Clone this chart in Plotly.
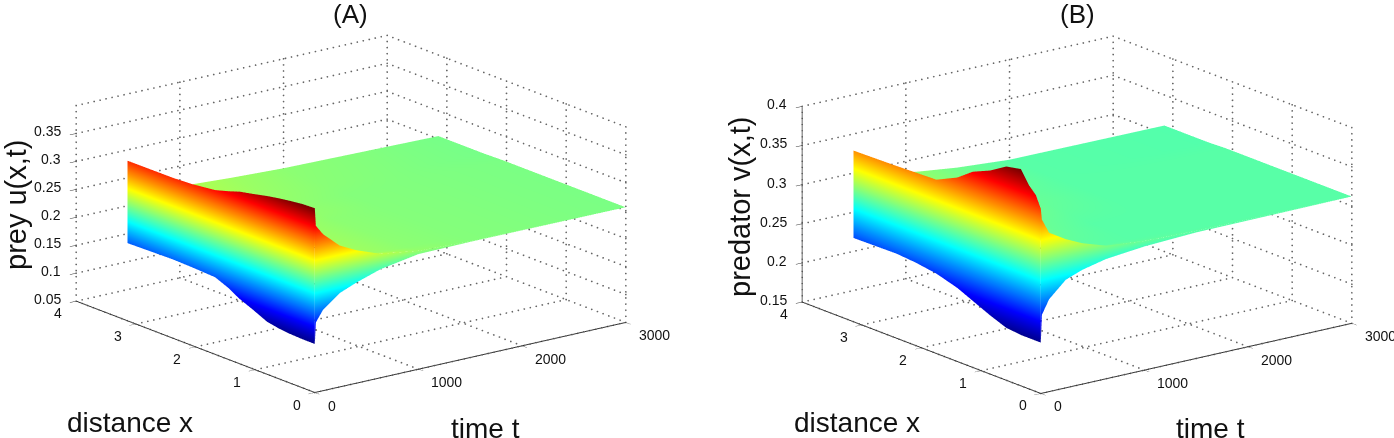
import plotly.graph_objects as go
import numpy as np

# axes (MATLAB-style box)
time_ticks = [0, 1000, 2000, 3000]
dist_ticks = [0, 1, 2, 3, 4]
prey_ticks = [0.05, 0.1, 0.15, 0.2, 0.25, 0.3, 0.35]
pred_ticks = [0.15, 0.2, 0.25, 0.3, 0.35, 0.4]

# grids
t_grid = [0, 10, 80, 240, 400, 630, 1000, 1500, 3000]
x_grid = [0, 0.2, 0.42, 0.6, 0.8, 1.04, 1.26, 1.45, 1.67, 2.05, 2.38, 3.14]

# upper sheet, rows = t_grid, columns = x_grid
prey_upper = [
    [0.380, 0.379, 0.376, 0.373, 0.369, 0.363, 0.358, 0.351, 0.344, 0.339, 0.337, 0.3365],
    [0.348, 0.340, 0.330, 0.325, 0.320, 0.315, 0.310, 0.307, 0.305, 0.305, 0.305, 0.305],
    [0.330, 0.315, 0.305, 0.302, 0.300, 0.297, 0.295, 0.295, 0.295, 0.295, 0.295, 0.295],
    [0.303, 0.290, 0.285, 0.283, 0.282, 0.281, 0.280, 0.280, 0.280, 0.280, 0.280, 0.280],
    [0.288, 0.275, 0.272, 0.272, 0.272, 0.272, 0.272, 0.272, 0.272, 0.272, 0.272, 0.272],
    [0.272, 0.264, 0.264, 0.264, 0.264, 0.264, 0.264, 0.265, 0.266, 0.266, 0.266, 0.268],
    [0.262, 0.260, 0.260, 0.260, 0.260, 0.260, 0.260, 0.260, 0.261, 0.261, 0.262, 0.264],
    [0.258, 0.258, 0.258, 0.258, 0.258, 0.258, 0.258, 0.258, 0.258, 0.258, 0.259, 0.260],
    [0.256, 0.256, 0.256, 0.256, 0.256, 0.256, 0.256, 0.256, 0.256, 0.256, 0.255, 0.255],
]
prey_lower_t0 = [0.137, 0.137, 0.138, 0.140, 0.144, 0.156, 0.166, 0.178, 0.188, 0.190, 0.191, 0.189]
prey_lower_x0 = [0.137, 0.175, 0.195, 0.218, 0.230, 0.244, 0.256, 0.257, 0.256]

pred_x_grid = [0, 0.083, 0.195, 0.333, 0.58, 0.85, 1.14, 1.4, 1.75, 2.1, 2.42, 3.14]
pred_upper = [
    [0.386, 0.401, 0.410, 0.427, 0.423, 0.410, 0.400, 0.385, 0.372, 0.371, 0.370, 0.3686],
    [0.372, 0.371, 0.370, 0.370, 0.370, 0.368, 0.365, 0.362, 0.360, 0.357, 0.355, 0.355],
    [0.353, 0.349, 0.345, 0.345, 0.345, 0.345, 0.345, 0.345, 0.345, 0.345, 0.345, 0.345],
    [0.340, 0.332, 0.325, 0.325, 0.328, 0.331, 0.335, 0.335, 0.335, 0.335, 0.335, 0.335],
    [0.330, 0.322, 0.316, 0.316, 0.318, 0.321, 0.325, 0.327, 0.328, 0.328, 0.328, 0.328],
    [0.320, 0.316, 0.313, 0.313, 0.314, 0.315, 0.316, 0.318, 0.320, 0.321, 0.322, 0.323],
    [0.315, 0.313, 0.312, 0.312, 0.312, 0.312, 0.313, 0.314, 0.315, 0.315, 0.316, 0.317],
    [0.313, 0.312, 0.312, 0.312, 0.312, 0.312, 0.312, 0.312, 0.312, 0.312, 0.312, 0.312],
    [0.312, 0.312, 0.312, 0.312, 0.312, 0.312, 0.312, 0.312, 0.312, 0.312, 0.311, 0.311],
]
pred_lower_t0 = [0.215, 0.215, 0.215, 0.215, 0.217, 0.225, 0.235, 0.244, 0.252, 0.256, 0.258, 0.257]
pred_lower_x0 = [0.215, 0.250, 0.268, 0.288, 0.296, 0.303, 0.308, 0.311, 0.312]

JET = [[0, "#00008f"], [0.125, "#0000ff"], [0.375, "#00ffff"], [0.625, "#ffff00"],
       [0.875, "#ff0000"], [1, "#800000"]]
FLAT = dict(ambient=1, diffuse=0, specular=0, roughness=1, fresnel=0)
TF = "Liberation Sans, Arial, sans-serif"
AXIS_FONT = dict(family=TF, size=14, color="#111")
GRID = "#666666"
SCALE = 1.79


def surf(x, y, z, cmin, cmax, scene):
    return go.Surface(x=x, y=y, z=z, surfacecolor=z, cmin=cmin, cmax=cmax, colorscale=JET,
                      showscale=False, lighting=FLAT, hoverinfo="skip", scene=scene,
                      contours=dict(x=dict(highlight=False), y=dict(highlight=False), z=dict(highlight=False)))


def grid_traces(fig, zticks, zlo, ztop, scene):
    # dotted MATLAB grid on the two back walls and the floor
    gx, gy, gz = [], [], []

    def seg(a, b, n):
        gx.extend(np.linspace(a[0], b[0], n)); gy.extend(np.linspace(a[1], b[1], n)); gz.extend(np.linspace(a[2], b[2], n))
    T, X = time_ticks[-1], dist_ticks[-1]
    for t in time_ticks:
        seg((t, 0, zlo), (t, X, zlo), 43)
        seg((t, X, zlo), (t, X, ztop), 33)
    for x in dist_ticks:
        seg((0, x, zlo), (T, x, zlo), 53)
        seg((T, x, zlo), (T, x, ztop), 33)
    for z in sorted(set(zticks + [ztop])):
        seg((0, X, z), (T, X, z), 53)
        seg((T, 0, z), (T, X, z), 43)
    fig.add_trace(go.Scatter3d(x=gx, y=gy, z=gz, mode="markers",
                               marker=dict(color=GRID, size=1, line=dict(width=0)),
                               hoverinfo="skip", showlegend=False, scene=scene))


def panel(fig, xg, upper, low_t0, low_x0, zticks, zlo, ztop, cmin, cmax, scene):
    up = np.array(upper)
    xs = np.array(xg, float)
    ts = np.array(t_grid, float)
    grid_traces(fig, zticks, zlo, ztop, scene)
    fig.add_trace(surf(ts, xs, up.T, cmin, cmax, scene))
    # t = 0 curtain between the two envelopes
    wall_z = np.array([up[0], low_t0])
    fig.add_trace(surf(np.zeros((2, len(xs))), np.array([xs, xs]), wall_z, cmin, cmax, scene))
    # x = 0 curtain between the two envelopes
    wall_z2 = np.array([up[:, 0], low_x0])
    fig.add_trace(surf(np.array([ts, ts]), np.zeros((2, len(ts))), wall_z2, cmin, cmax, scene))


fig = go.Figure()
panel(fig, x_grid, prey_upper, prey_lower_t0, prey_lower_x0, prey_ticks, 0.05, 0.40, 0.137, 0.377, "scene")
panel(fig, pred_x_grid, pred_upper, pred_lower_t0, pred_lower_x0, pred_ticks, 0.15, 0.40, 0.215, 0.425, "scene2")
fig.add_trace(go.Scatter3d(x=[0, 0], y=[4, 4], z=[pred_ticks[0], pred_ticks[-1]], mode="lines",
                           line=dict(color="#333", width=1.5), hoverinfo="skip", scene="scene2"))


def axis(vals, rng, line=True):
    return dict(range=rng, tickmode="array", tickvals=vals, showticklabels=False,
                showgrid=False, zeroline=False, showbackground=False, showspikes=False,
                showline=line, linecolor="#333", linewidth=2, ticks="outside", ticklen=8, tickcolor="#333",
                title=dict(text=""))


def tick_notes(zvals, zlo):
    notes = []
    base = dict(showarrow=False, font=AXIS_FONT, yanchor="middle")
    for t in time_ticks:
        notes.append(dict(x=t, y=0, z=zlo, text=f"{t:g}", xanchor="left", xshift=11, yshift=-13, **base))
    for d in dist_ticks:
        notes.append(dict(x=0, y=d, z=zlo, text=f"{d:g}", xanchor="center", xshift=-18, yshift=-12, **base))
    for v in zvals:
        notes.append(dict(x=0, y=4, z=v, text=f"{v:g}", xanchor="right", xshift=-13, yshift=2, **base))
    return notes


def scene(dom_x, dom_y, zvals, zrng, c, cz):
    e = 2.0
    el = np.radians(17.1); az = np.radians(37.5)
    return dict(domain=dict(x=dom_x, y=dom_y),
                xaxis=axis(time_ticks, [0, 3000]), yaxis=axis(dist_ticks, [0, 4]),
                zaxis=axis(zvals, zrng, line=False),
                annotations=tick_notes(zvals, zrng[0]),
                aspectmode="manual", aspectratio=dict(x=SCALE, y=SCALE, z=c*SCALE),
                camera=dict(projection=dict(type="orthographic"),
                            center=dict(x=0, y=0, z=cz), up=dict(x=0, y=0, z=1),
                            eye=dict(x=-e*np.sin(az)*np.cos(el), y=-e*np.cos(az)*np.cos(el), z=e*np.sin(el)+cz)))


W, H = 1394, 438
fig.update_layout(
    width=W, height=H, autosize=False, margin=dict(l=0, r=0, t=0, b=0),
    paper_bgcolor="white", showlegend=False,
    scene=scene([35/W, 667/W], [0, 1], prey_ticks, [0.05, 0.40], 0.522, -0.024),
    scene2=scene([761/W, 1393/W], [0, 1], pred_ticks, [0.15, 0.43], 0.585, -0.076),
)

labels = [
    ("(A)", 350, 14, 0, 26), ("(B)", 1077, 14, 0, 26),
    ("prey u(x,t)", 16, 205, -90, 29), ("predator v(x,t)", 740, 207, -90, 29),
    ("distance x", 130, 422, 0, 28), ("distance x", 857, 422, 0, 28),
    ("time t", 485, 428, 0, 28), ("time t", 1210, 428, 0, 28),
]
fig.update_layout(annotations=[
    dict(text=t, x=px/W, y=1-py/H, xref="paper", yref="paper", showarrow=False, textangle=a,
         xanchor="center", yanchor="middle", font=dict(family=TF, size=s, color="#111"))
    for t, px, py, a, s in labels])

fig.write_html("out.html", config=dict(displayModeBar=False),
               post_script="document.body.style.margin='0';document.documentElement.style.overflow='hidden';")
